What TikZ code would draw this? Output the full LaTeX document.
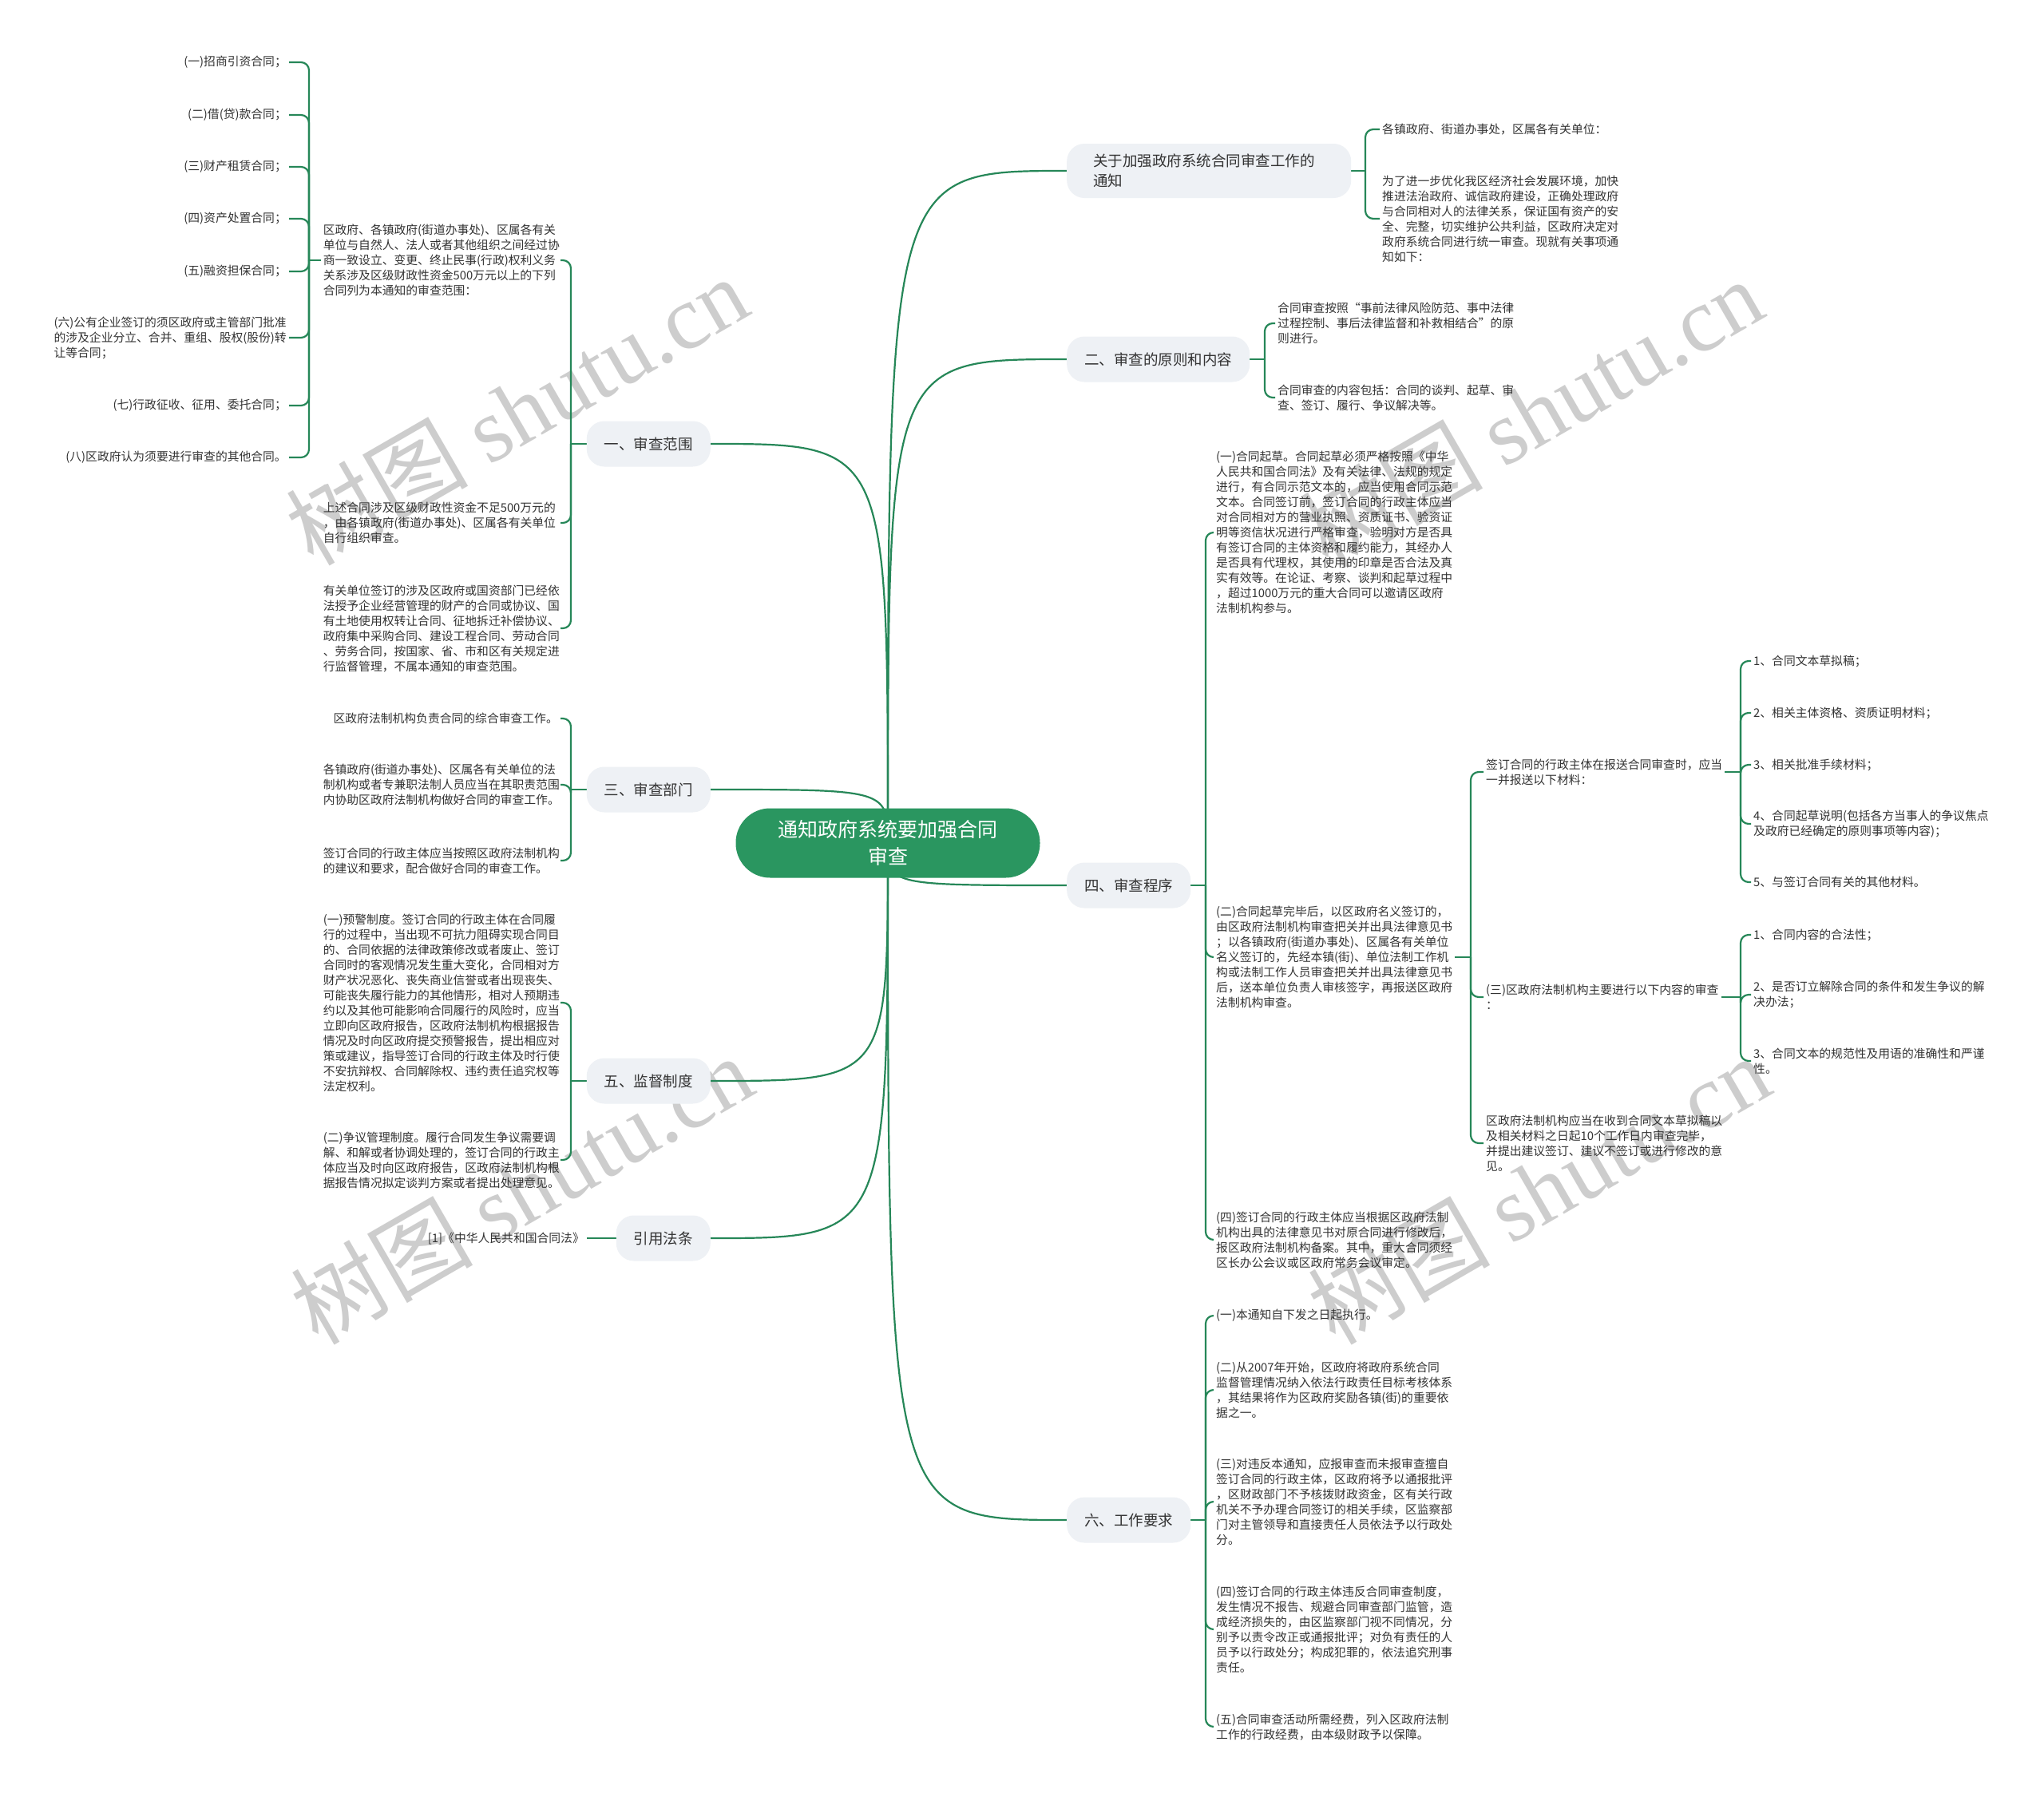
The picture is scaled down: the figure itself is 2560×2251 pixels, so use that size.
\documentclass[tikz,border=0pt]{standalone}
\usepackage{fontspec}
\setmainfont{Noto Sans CJK SC}
\newfontfamily\wmfont{Liberation Serif}
\usetikzlibrary{calc}
\definecolor{rootg}{RGB}{42,150,96}
\definecolor{lineg}{RGB}{38,135,88}
\definecolor{lonefill}{RGB}{238,241,245}
\definecolor{txt}{RGB}{51,51,51}
\definecolor{wmgray}{RGB}{205,205,205}
\pgfdeclarelayer{wm}
\pgfdeclarelayer{bg}
\pgfsetlayers{wm,bg,main}
\begin{document}
\begin{tikzpicture}[x=1pt,y=-1pt,
  rootnode/.style={fill=rootg, text=white, rounded corners=43pt, minimum width=381pt, minimum height=87pt, align=center, font=\fontsize{25}{34}\selectfont, inner sep=0pt},
  lone/.style={fill=lonefill, text=txt, rounded corners=22pt, inner xsep=22pt, inner ysep=0pt, minimum height=57pt, font=\fontsize{18.5}{24.5}\selectfont},
  sm/.style={text=txt, align=left, inner sep=3pt, font=\fontsize{14.8}{19}\selectfont},
  tw/.style={text width=294pt},
  conn/.style={draw=lineg, line width=2.2pt},
  brk/.style={draw=lineg, line width=2.2pt, rounded corners=10pt},
  wmark/.style={text=wmgray, rotate=30, font=\fontsize{114}{120}\selectfont, inner sep=0pt}
]
\useasboundingbox (0,0) rectangle (2560,2251);
\begin{pgfonlayer}{wm}
\fill[white] (0,0) rectangle (2560,2251);
\foreach \wx/\wy [count=\i] in {647/514, 653/1490, 1918/517, 1927/1490}
  \node[wmark] (wm\i) at (\wx,\wy) {树图 {\wmfont shutu.cn}};
\end{pgfonlayer}

% root
\node[rootnode] (root) at (1112,1056) {通知政府系统要加强合同\\审查};

% level one, right
\node[lone, anchor=west, text width=290pt, align=left, inner xsep=33pt, minimum height=68pt] (n1) at (1336,214) {关于加强政府系统合同审查工作的\\通知};
\node[lone, anchor=west] (n2) at (1336,450) {二、审查的原则和内容};
\node[lone, anchor=west] (n4) at (1336,1109) {四、审查程序};
\node[lone, anchor=west] (n6) at (1336,1904) {六、工作要求};
% level one, left
\node[lone, anchor=east] (n1l) at (890,556) {一、审查范围};
\node[lone, anchor=east] (n3) at (890,989) {三、审查部门};
\node[lone, anchor=east] (n5) at (890,1354) {五、监督制度};
\node[lone, anchor=east] (n7) at (890,1551) {引用法条};

% children of n1
\node[sm, anchor=west] (c1a) at (1728,162) {各镇政府、街道办事处，区属各有关单位：};
\node[sm, anchor=west] (c1b) at (1728,274) {为了进一步优化我区经济社会发展环境，加快\\推进法治政府、诚信政府建设，正确处理政府\\与合同相对人的法律关系，保证国有资产的安\\全、完整，切实维护公共利益，区政府决定对\\政府系统合同进行统一审查。现就有关事项通\\知如下：};
% children of n2
\node[sm, anchor=west] (c2a) at (1597,405) {合同审查按照“事前法律风险防范、事中法律\\过程控制、事后法律监督和补救相结合”的原\\则进行。};
\node[sm, anchor=west] (c2b) at (1597,498) {合同审查的内容包括：合同的谈判、起草、审\\查、签订、履行、争议解决等。};
% children of n4
\node[sm, anchor=west] (c4a) at (1520,667) {(一)合同起草。合同起草必须严格按照《中华\\人民共和国合同法》及有关法律、法规的规定\\进行，有合同示范文本的，应当使用合同示范\\文本。合同签订前，签订合同的行政主体应当\\对合同相对方的营业执照、资质证书、验资证\\明等资信状况进行严格审查，验明对方是否具\\有签订合同的主体资格和履约能力，其经办人\\是否具有代理权，其使用的印章是否合法及真\\实有效等。在论证、考察、谈判和起草过程中\\，超过1000万元的重大合同可以邀请区政府\\法制机构参与。};
\node[sm, anchor=west] (c4b) at (1520,1199) {(二)合同起草完毕后，以区政府名义签订的，\\由区政府法制机构审查把关并出具法律意见书\\；以各镇政府(街道办事处)、区属各有关单位\\名义签订的，先经本镇(街)、单位法制工作机\\构或法制工作人员审查把关并出具法律意见书\\后，送本单位负责人审核签字，再报送区政府\\法制机构审查。};
\node[sm, anchor=west] (c4c) at (1520,1553) {(四)签订合同的行政主体应当根据区政府法制\\机构出具的法律意见书对原合同进行修改后，\\报区政府法制机构备案。其中，重大合同须经\\区长办公会议或区政府常务会议审定。};
% children of c4b
\node[sm, anchor=west] (d1) at (1858,967) {签订合同的行政主体在报送合同审查时，应当\\一并报送以下材料：};
\node[sm, anchor=west] (d2) at (1858,1249) {(三)区政府法制机构主要进行以下内容的审查\\：};
\node[sm, anchor=west] (d3) at (1858,1432) {区政府法制机构应当在收到合同文本草拟稿以\\及相关材料之日起10个工作日内审查完毕，\\并提出建议签订、建议不签订或进行修改的意\\见。};
% children of d1
\node[sm, anchor=west] (d1i1) at (2193,828) {1、合同文本草拟稿；};
\node[sm, anchor=west] (d1i2) at (2193,893) {2、相关主体资格、资质证明材料；};
\node[sm, anchor=west] (d1i3) at (2193,958) {3、相关批准手续材料；};
\node[sm, anchor=west] (d1i4) at (2193,1032) {4、合同起草说明(包括各方当事人的争议焦点\\及政府已经确定的原则事项等内容)；};
\node[sm, anchor=west] (d1i5) at (2193,1105) {5、与签订合同有关的其他材料。};
% children of d2
\node[sm, anchor=west] (d2i1) at (2193,1171) {1、合同内容的合法性；};
\node[sm, anchor=west] (d2i2) at (2193,1246) {2、是否订立解除合同的条件和发生争议的解\\决办法；};
\node[sm, anchor=west] (d2i3) at (2193,1329) {3、合同文本的规范性及用语的准确性和严谨\\性。};
% children of n6
\node[sm, anchor=west] (e1) at (1520,1648) {(一)本通知自下发之日起执行。};
\node[sm, anchor=west] (e2) at (1520,1741) {(二)从2007年开始，区政府将政府系统合同\\监督管理情况纳入依法行政责任目标考核体系\\，其结果将作为区政府奖励各镇(街)的重要依\\据之一。};
\node[sm, anchor=west] (e3) at (1520,1881) {(三)对违反本通知，应报审查而未报审查擅自\\签订合同的行政主体，区政府将予以通报批评\\，区财政部门不予核拨财政资金，区有关行政\\机关不予办理合同签订的相关手续，区监察部\\门对主管领导和直接责任人员依法予以行政处\\分。};
\node[sm, anchor=west] (e4) at (1520,2041) {(四)签订合同的行政主体违反合同审查制度，\\发生情况不报告、规避合同审查部门监管，造\\成经济损失的，由区监察部门视不同情况，分\\别予以责令改正或通报批评；对负有责任的人\\员予以行政处分；构成犯罪的，依法追究刑事\\责任。};
\node[sm, anchor=west] (e5) at (1520,2163) {(五)合同审查活动所需经费，列入区政府法制\\工作的行政经费，由本级财政予以保障。};

% left: children of n1l
\node[sm, tw, anchor=east] (f1) at (702,326) {区政府、各镇政府(街道办事处)、区属各有关\\单位与自然人、法人或者其他组织之间经过协\\商一致设立、变更、终止民事(行政)权利义务\\关系涉及区级财政性资金500万元以上的下列\\合同列为本通知的审查范围：};
\node[sm, tw, anchor=east] (f2) at (702,655) {上述合同涉及区级财政性资金不足500万元的\\，由各镇政府(街道办事处)、区属各有关单位\\自行组织审查。};
\node[sm, tw, anchor=east] (f3) at (702,787) {有关单位签订的涉及区政府或国资部门已经依\\法授予企业经营管理的财产的合同或协议、国\\有土地使用权转让合同、征地拆迁补偿协议、\\政府集中采购合同、建设工程合同、劳动合同\\、劳务合同，按国家、省、市和区有关规定进\\行监督管理，不属本通知的审查范围。};
% children of f1
\node[sm, anchor=east] (fi1) at (362,78) {(一)招商引资合同；};
\node[sm, anchor=east] (fi2) at (362,144) {(二)借(贷)款合同；};
\node[sm, anchor=east] (fi3) at (362,209) {(三)财产租赁合同；};
\node[sm, anchor=east] (fi4) at (362,274) {(四)资产处置合同；};
\node[sm, anchor=east] (fi5) at (362,340) {(五)融资担保合同；};
\node[sm, anchor=east] (fi6) at (362,423) {(六)公有企业签订的须区政府或主管部门批准\\的涉及企业分立、合并、重组、股权(股份)转\\让等合同；};
\node[sm, anchor=east] (fi7) at (362,508) {(七)行政征收、征用、委托合同；};
\node[sm, anchor=east] (fi8) at (362,573) {(八)区政府认为须要进行审查的其他合同。};
% children of n3
\node[sm, anchor=east] (g1) at (702,900) {区政府法制机构负责合同的综合审查工作。};
\node[sm, tw, anchor=east] (g2) at (702,983) {各镇政府(街道办事处)、区属各有关单位的法\\制机构或者专兼职法制人员应当在其职责范围\\内协助区政府法制机构做好合同的审查工作。};
\node[sm, tw, anchor=east] (g3) at (702,1078) {签订合同的行政主体应当按照区政府法制机构\\的建议和要求，配合做好合同的审查工作。};
% children of n5
\node[sm, tw, anchor=east] (h1) at (702,1256) {(一)预警制度。签订合同的行政主体在合同履\\行的过程中，当出现不可抗力阻碍实现合同目\\的、合同依据的法律政策修改或者废止、签订\\合同时的客观情况发生重大变化，合同相对方\\财产状况恶化、丧失商业信誉或者出现丧失、\\可能丧失履行能力的其他情形，相对人预期违\\约以及其他可能影响合同履行的风险时，应当\\立即向区政府报告，区政府法制机构根据报告\\情况及时向区政府提交预警报告，提出相应对\\策或建议，指导签订合同的行政主体及时行使\\不安抗辩权、合同解除权、违约责任追究权等\\法定权利。};
\node[sm, tw, anchor=east] (h2) at (702,1453) {(二)争议管理制度。履行合同发生争议需要调\\解、和解或者协调处理的，签订合同的行政主\\体应当及时向区政府报告，区政府法制机构根\\据报告情况拟定谈判方案或者提出处理意见。};
% child of n7
\node[sm, anchor=east] (r1) at (735,1551) {[1]《中华人民共和国合同法》};

% bracket points
\coordinate (b1) at (1710,214);
\coordinate (b2) at (1584,450);
\coordinate (b4) at (1510,1109);
\coordinate (b4b) at (1842,1199);
\coordinate (bd1) at (2180,967);
\coordinate (bd2) at (2180,1249);
\coordinate (b6) at (1510,1904);
\coordinate (bl1) at (715,556);
\coordinate (bf1) at (387,326);
\coordinate (bl3) at (715,989);
\coordinate (bl5) at (715,1354);

\begin{pgfonlayer}{bg}
% root connectors
\foreach \n in {n1,n2,n4,n6}
  \draw[conn] (root.center) .. controls (root.center |- \n.west) .. (\n.west);
\foreach \n in {n1l,n3,n5,n7}
  \draw[conn] (root.center) .. controls (root.center |- \n.east) .. (\n.east);
% right brackets
\draw[conn] (n1.east) -- (b1);
\foreach \c in {c1a,c1b} \draw[brk] (b1) |- (\c.west);
\draw[conn] (n2.east) -- (b2);
\foreach \c in {c2a,c2b} \draw[brk] (b2) |- (\c.west);
\draw[conn] (n4.east) -- (b4);
\foreach \c in {c4a,c4b,c4c} \draw[brk] (b4) |- (\c.west);
\draw[conn] (c4b.east) -- (b4b);
\foreach \c in {d1,d2,d3} \draw[brk] (b4b) |- (\c.west);
\draw[conn] (d1.east) -- (bd1);
\foreach \c in {d1i1,d1i2,d1i3,d1i4,d1i5} \draw[brk] (bd1) |- (\c.west);
\draw[conn] (d2.east) -- (bd2);
\foreach \c in {d2i1,d2i2,d2i3} \draw[brk] (bd2) |- (\c.west);
\draw[conn] (n6.east) -- (b6);
\foreach \c in {e1,e2,e3,e4,e5} \draw[brk] (b6) |- (\c.west);
% left brackets
\draw[conn] (n1l.west) -- (bl1);
\foreach \c in {f1,f2,f3} \draw[brk] (bl1) |- (\c.east);
\draw[conn] (f1.west) -- (bf1);
\foreach \c in {fi1,fi2,fi3,fi4,fi5,fi6,fi7,fi8} \draw[brk] (bf1) |- (\c.east);
\draw[conn] (n3.west) -- (bl3);
\foreach \c in {g1,g2,g3} \draw[brk] (bl3) |- (\c.east);
\draw[conn] (n5.west) -- (bl5);
\foreach \c in {h1,h2} \draw[brk] (bl5) |- (\c.east);
\draw[conn] (n7.west) -- (r1.east);
\end{pgfonlayer}
\end{tikzpicture}
\end{document}
